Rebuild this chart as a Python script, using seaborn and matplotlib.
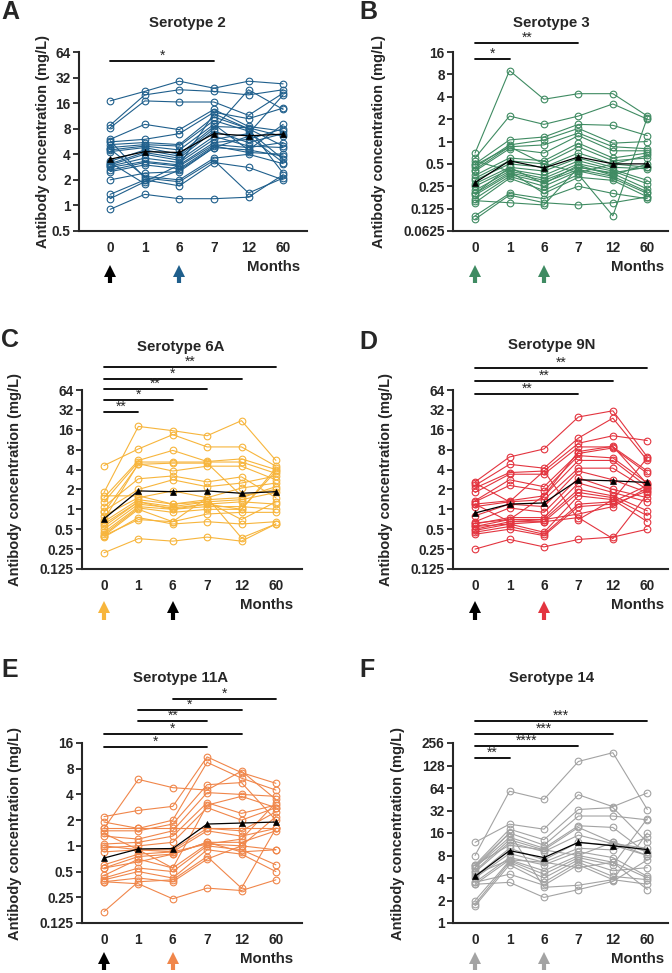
import numpy as np
import pandas as pd
import matplotlib
matplotlib.use('Agg')
import matplotlib.pyplot as plt
import seaborn as sns
from matplotlib.ticker import NullLocator

# time points (months)
months = ['0', '1', '6', '7', '12', '60']

# ---- Serotype 2 (A) ----
st2 = [
    [17, 22, 29, 24, 29, 27],
    [8.8, 20, 23, 22, 20, 23],
    [8.2, 17, 16.5, 16.5, 11.5, 21],
    [6.0, 9.0, 7.8, 13.5, 8.5, 7.5],
    [5.6, 6.0, 7.0, 12.5, 10.5, 14],
    [5.2, 5.5, 5.2, 11, 8, 2.4],
    [4.8, 5.2, 5.0, 10, 7.5, 3.5],
    [4.5, 5.0, 4.5, 9, 4.5, 9],
    [4.3, 4.8, 4.0, 8.5, 8.2, 6.5],
    [3.3, 4.5, 3.8, 8, 23, 13.5],
    [3.1, 4.2, 3.6, 7.5, 5.5, 7],
    [3.0, 4.0, 3.4, 6.5, 5.0, 4.8],
    [2.9, 3.6, 3.2, 6.0, 7.0, 20],
    [2.8, 3.3, 3.0, 5.5, 6.0, 8],
    [2.6, 3.2, 2.9, 5.2, 4.8, 5.5],
    [2.5, 3.0, 2.7, 5.0, 4.2, 4.0],
    [2.0, 2.4, 2.5, 4.8, 6.5, 3.2],
    [4.6, 2.2, 2.0, 3.6, 4.0, 3.1],
    [5.8, 2.1, 1.9, 3.4, 1.4, 2.1],
    [1.35, 2.0, 1.7, 3.2, 2.8, 2.0],
    [1.2, 1.9, 3.0, 12, 8.0, 5.0],
    [0.9, 1.35, 1.2, 1.2, 1.25, 2.3],
    [3.2, 1.8, 2.6, 4.8, 4.5, 3.8],
]
st2_mean = [3.5, 4.3, 4.2, 7.0, 6.6, 6.9]

# ---- Serotype 3 (B) ----
st3 = [
    [0.7, 9.0, 3.7, 4.4, 4.4, 2.2],
    [0.6, 2.2, 1.7, 2.2, 3.2, 2.0],
    [0.5, 1.05, 1.15, 1.7, 1.65, 1.2],
    [0.45, 0.9, 1.05, 1.5, 0.95, 1.0],
    [0.42, 0.85, 0.9, 1.3, 0.85, 0.8],
    [0.4, 0.8, 0.7, 1.2, 0.75, 0.75],
    [0.35, 0.6, 0.55, 0.95, 0.6, 0.7],
    [0.32, 0.55, 0.5, 0.85, 0.55, 0.6],
    [0.3, 0.5, 0.45, 0.7, 0.5, 0.45],
    [0.27, 0.45, 0.4, 0.6, 0.45, 0.43],
    [0.25, 0.42, 0.35, 0.55, 0.42, 0.3],
    [0.22, 0.4, 0.32, 0.5, 0.4, 0.27],
    [0.2, 0.38, 0.3, 0.45, 0.37, 0.23],
    [0.19, 0.36, 0.28, 0.42, 0.34, 0.21],
    [0.17, 0.34, 0.25, 0.4, 0.32, 0.2],
    [0.15, 0.32, 0.22, 0.36, 0.1, 2.1],
    [0.55, 0.4, 0.2, 0.33, 0.3, 0.18],
    [0.1, 0.2, 0.17, 0.25, 0.2, 0.17],
    [0.09, 0.19, 0.15, 0.14, 0.15, 0.18],
    [0.16, 0.15, 0.14, 0.45, 0.38, 0.45],
    [0.48, 0.85, 0.5, 0.38, 0.5, 0.65],
    [0.2, 0.45, 0.27, 0.48, 0.35, 0.5],
]
st3_mean = [0.28, 0.55, 0.44, 0.62, 0.5, 0.5]

# ---- Serotype 6A (C) ----
st6a = [
    [1.8, 18, 15.5, 13, 22, 5.5],
    [4.6, 8.2, 13.5, 8.8, 8.8, 4.5],
    [1.5, 5.5, 7.8, 5.3, 5.8, 4.0],
    [1.3, 5.2, 5.2, 5.2, 5.2, 3.5],
    [0.7, 4.9, 3.8, 4.5, 4.5, 2.8],
    [1.1, 2.9, 3.2, 2.6, 3.1, 1.5],
    [0.95, 2.0, 2.8, 2.2, 2.5, 3.2],
    [0.8, 1.5, 1.9, 1.5, 2.1, 2.5],
    [0.65, 1.4, 1.2, 1.4, 1.5, 2.2],
    [0.55, 1.3, 1.1, 1.3, 1.4, 1.8],
    [0.5, 1.2, 1.05, 1.2, 1.3, 1.2],
    [0.45, 1.1, 1.0, 1.1, 1.1, 1.0],
    [0.42, 1.05, 0.9, 1.0, 1.0, 3.8],
    [0.4, 1.0, 0.65, 0.85, 0.9, 0.9],
    [0.38, 0.75, 0.6, 0.65, 0.6, 0.65],
    [0.4, 0.7, 0.65, 1.5, 0.37, 0.6],
    [0.22, 0.36, 0.33, 0.38, 0.33, 0.6],
    [1.6, 1.6, 1.2, 1.3, 0.7, 1.3],
    [0.6, 1.3, 1.0, 1.2, 1.0, 4.2],
    [0.9, 4.8, 5.0, 5.0, 1.6, 2.0],
]
st6a_mean = [0.72, 1.9, 1.85, 1.9, 1.75, 1.85]

# ---- Serotype 9N (D) ----
st9n = [
    [2.6, 6.2, 8.2, 25, 31, 6.2],
    [2.3, 4.8, 4.2, 12, 24, 5.5],
    [2.1, 3.6, 3.8, 10, 13, 11],
    [1.8, 3.4, 3.4, 8.8, 8.8, 3.8],
    [1.35, 2.8, 2.2, 7.0, 8.5, 3.5],
    [1.3, 2.3, 1.9, 6.5, 6.0, 2.5],
    [1.2, 1.35, 1.6, 5.5, 5.5, 2.2],
    [1.1, 1.3, 1.4, 4.2, 4.2, 2.0],
    [0.8, 1.2, 1.1, 3.8, 2.8, 1.8],
    [0.65, 1.05, 0.9, 3.0, 2.0, 1.5],
    [0.6, 0.75, 0.75, 2.5, 1.8, 1.3],
    [0.55, 0.7, 0.7, 2.0, 1.6, 0.95],
    [0.5, 0.65, 0.65, 1.8, 1.5, 0.8],
    [0.48, 0.6, 0.45, 1.6, 1.4, 0.65],
    [0.45, 0.55, 0.42, 1.2, 1.3, 2.3],
    [0.42, 0.5, 0.4, 1.1, 1.2, 1.9],
    [0.25, 0.35, 0.27, 0.35, 0.38, 0.5],
    [1.2, 0.65, 0.7, 0.85, 1.1, 2.1],
    [0.55, 0.6, 0.65, 0.75, 0.36, 1.7],
    [2.5, 1.3, 3.8, 0.7, 1.4, 6.0],
    [0.62, 0.7, 1.6, 7.5, 9.0, 2.4],
]
st9n_mean = [0.88, 1.2, 1.25, 2.8, 2.7, 2.55]

# ---- Serotype 11A (E) ----
st11a = [
    [1.6, 6.0, 4.8, 4.5, 7.5, 3.5],
    [2.2, 2.6, 2.9, 11, 7.2, 5.4],
    [1.9, 1.6, 2.0, 9.5, 6.2, 4.5],
    [1.5, 1.5, 1.8, 5.2, 5.5, 2.0],
    [1.3, 1.2, 1.5, 4.2, 4.0, 3.8],
    [1.05, 1.1, 1.3, 3.2, 2.4, 3.0],
    [0.95, 1.0, 1.1, 2.8, 2.0, 2.8],
    [0.85, 0.9, 0.9, 1.6, 1.5, 2.5],
    [0.6, 0.8, 0.85, 1.5, 1.3, 1.6],
    [0.55, 0.75, 0.8, 1.1, 1.1, 1.5],
    [0.45, 0.7, 0.55, 1.05, 1.0, 0.9],
    [0.42, 0.55, 0.5, 1.0, 0.9, 0.6],
    [0.4, 0.5, 0.42, 0.9, 0.8, 0.5],
    [0.38, 0.36, 0.24, 0.32, 0.3, 0.4],
    [0.17, 0.38, 0.4, 0.75, 0.32, 1.6],
    [0.38, 0.42, 0.38, 0.7, 1.0, 2.2],
    [1.6, 1.6, 1.6, 1.6, 1.6, 1.6],
    [1.0, 0.9, 0.55, 3.0, 3.8, 2.8],
    [0.55, 0.65, 0.8, 1.1, 0.85, 0.9],
    [1.4, 0.9, 0.85, 1.05, 1.2, 3.2],
]
st11a_mean = [0.72, 0.92, 0.93, 1.8, 1.85, 1.9]

# ---- Serotype 14 (F) ----
st14 = [
    [8, 58, 45, 145, 190, 33],
    [12, 21, 18, 52, 36, 55],
    [6, 18, 13, 33, 35, 12],
    [5.8, 16, 11, 27, 27, 24],
    [5.5, 14, 10, 20, 19, 8.5],
    [5.0, 13, 9.5, 19, 12, 9],
    [4.8, 12, 9.0, 15, 11.5, 10],
    [4.2, 10, 7, 12, 11, 8],
    [4.0, 8.5, 6.5, 10, 9.5, 14],
    [3.5, 7.5, 6.0, 9, 7.5, 4.2],
    [3.3, 7.0, 5.0, 8, 6.5, 4.0],
    [2.0, 6.8, 4.5, 7.5, 6.0, 25],
    [1.8, 6.5, 4.0, 7.0, 5.0, 5.5],
    [1.7, 6.0, 3.5, 6.5, 4.2, 3.8],
    [3.5, 4.5, 3.2, 6.0, 3.8, 3.3],
    [3.3, 3.5, 2.2, 2.8, 3.6, 7.0],
    [5.5, 16, 3.0, 3.2, 3.8, 16],
    [4.5, 7.0, 6.5, 5.5, 6.5, 2.8],
    [6.0, 11, 9.5, 8.0, 12, 8.0],
]
st14_mean = [4.2, 9.3, 7.5, 12, 10.8, 9.6]

# significance comparisons: (from index, to index, stars)
sig2 = [(0, 3, '*')]
sig3 = [(0, 1, '*'), (0, 3, '**')]
sig6a = [(0, 1, '**'), (0, 2, '*'), (0, 3, '**'), (0, 4, '*'), (0, 5, '**')]
sig9n = [(0, 3, '**'), (0, 4, '**'), (0, 5, '**')]
sig11a = [(0, 3, '*'), (0, 4, '*'), (1, 3, '**'), (1, 4, '*'), (2, 5, '*')]
sig14 = [(0, 1, '**'), (0, 3, '****'), (0, 4, '***'), (0, 5, '***')]

sns.set_style('ticks')
plt.rcParams['font.family'] = ['Liberation Sans', 'DejaVu Sans']
plt.rcParams['font.weight'] = 'bold'

W, H = 672, 973
fig = plt.figure(figsize=(W / 100, H / 100), dpi=100)


def to_long(rows):
    df = pd.DataFrame(rows, columns=months)
    df['subject'] = range(len(df))
    df = df.melt(id_vars='subject', var_name='month', value_name='conc')
    df['pos'] = df['month'].map({m: i for i, m in enumerate(months)})
    return df


def panel(px, letter, letter_xy, title, title_y, color, rows, mean, yt, ylab_x,
          xlim, sigs, sig_y, arrow_cols, arrow_y):
    l, t, r, b = px
    ax = fig.add_axes([l / W, (H - b) / H, (r - l) / W, (b - t) / H])
    df = to_long(rows)
    sns.lineplot(data=df, x='pos', y='conc', units='subject', estimator=None,
                 color=color, lw=0.8, marker='o', markersize=4.8,
                 markerfacecolor='none', markeredgecolor=color,
                 markeredgewidth=0.8, ax=ax, legend=False)
    sns.lineplot(x=list(range(6)), y=mean, color='black', lw=0.9, marker='^',
                 markersize=5, markeredgecolor='black', markeredgewidth=0.5,
                 ax=ax, zorder=5)
    ax.set_yscale('log', base=2)
    ax.set_ylim(yt[0], yt[-1])
    ax.set_yticks(yt)
    ax.set_yticklabels([('%g' % v) for v in yt])
    ax.yaxis.set_minor_locator(NullLocator())
    ax.set_xlim(*xlim)
    ax.set_xticks(range(6))
    ax.set_xticklabels(months)
    ax.set_xlabel('')
    ax.set_ylabel('')
    sns.despine(ax=ax)
    for s in ('left', 'bottom'):
        ax.spines[s].set_linewidth(1.5)
    ax.tick_params(axis='x', length=0, pad=7, labelsize=9.8)
    ax.tick_params(axis='y', length=4, width=1.3, pad=2, labelsize=9.8)
    for lab in ax.get_xticklabels() + ax.get_yticklabels():
        lab.set_fontweight('bold')
    ax.text(ylab_x, 0.5, 'Antibody concentration (mg/L)', rotation=90,
            transform=ax.transAxes, ha='center', va='center',
            fontsize=10.5, fontweight='bold')
    tr = ax.get_xaxis_transform()
    ax.text(2.22, title_y, title, transform=tr, ha='center', va='center',
            fontsize=10.8, fontweight='bold')
    ax.text(4.72, -0.2, 'Months', transform=tr, ha='center', va='center',
            fontsize=10.8, fontweight='bold')
    for (x0, x1, stars), y in zip(sigs, sig_y):
        ax.plot([x0, x1], [y, y], color='black', lw=1.3, transform=tr,
                clip_on=False)
        ax.text((x0 + x1) / 2, y - 0.012, stars, transform=tr, ha='center',
                va='bottom', fontsize=10, fontweight='normal')
    # injection arrows: shaft + triangular head
    for x, c in zip([0, 2], arrow_cols):
        tip, base = arrow_y
        ax.plot([x, x], [base, tip - 0.035], color=c, lw=3.0, transform=tr,
                clip_on=False, solid_capstyle='butt')
        ax.plot([x], [tip - 0.026], marker='^', markersize=9, color=c,
                markeredgewidth=0, transform=tr, clip_on=False)
    fig.text(letter_xy[0] / W, 1 - letter_xy[1] / H, letter, fontsize=18,
             fontweight='bold', ha='left', va='top')
    return ax


blue = '#1f5f8c'
green = '#3f8b62'
yellow = '#f7b53c'
red = '#e3343f'
orange = '#f0864a'
gray = '#a3a3a3'

panel((79, 52, 307, 231), 'A', (1, 0), 'Serotype 2', 1.162, blue, st2, st2_mean,
      [0.5, 1, 2, 4, 8, 16, 32, 64], -0.158, (-0.9, 5.69), sig2, [0.95],
      ['black', blue], (-0.2, -0.29))
panel((453, 52, 668, 231), 'B', (359, 0), 'Serotype 3', 1.162, green, st3, st3_mean,
      [0.0625, 0.125, 0.25, 0.5, 1, 2, 4, 8, 16], -0.344, (-0.64, 5.6), sig3,
      [0.961, 1.05], [green, green], (-0.2, -0.29))
panel((82, 390, 302, 569), 'C', (1, 328), 'Serotype 6A', 1.24, yellow, st6a, st6a_mean,
      [0.125, 0.25, 0.5, 1, 2, 4, 8, 16, 32, 64], -0.305, (-0.64, 5.76), sig6a,
      [0.877, 0.944, 1.006, 1.061, 1.128], [yellow, 'black'], (-0.185, -0.285))
panel((453, 390, 668, 569), 'D', (359, 330), 'Serotype 9N', 1.25, red, st9n, st9n_mean,
      [0.125, 0.25, 0.5, 1, 2, 4, 8, 16, 32, 64], -0.31, (-0.64, 5.6), sig9n,
      [0.978, 1.05, 1.123], ['black', red], (-0.185, -0.285))
panel((82, 743, 302, 923), 'E', (1, 658), 'Serotype 11A', 1.36, orange, st11a, st11a_mean,
      [0.125, 0.25, 0.5, 1, 2, 4, 8, 16], -0.305, (-0.64, 5.76), sig11a,
      [0.978, 1.05, 1.122, 1.183, 1.244], ['black', orange], (-0.167, -0.26))
panel((453, 743, 668, 923), 'F', (359, 658), 'Serotype 14', 1.36, gray, st14, st14_mean,
      [1, 2, 4, 8, 16, 32, 64, 128, 256], -0.256, (-0.64, 5.6), sig14,
      [0.917, 0.983, 1.05, 1.122], [gray, gray], (-0.167, -0.26))

fig.savefig('out.png', dpi=100)
